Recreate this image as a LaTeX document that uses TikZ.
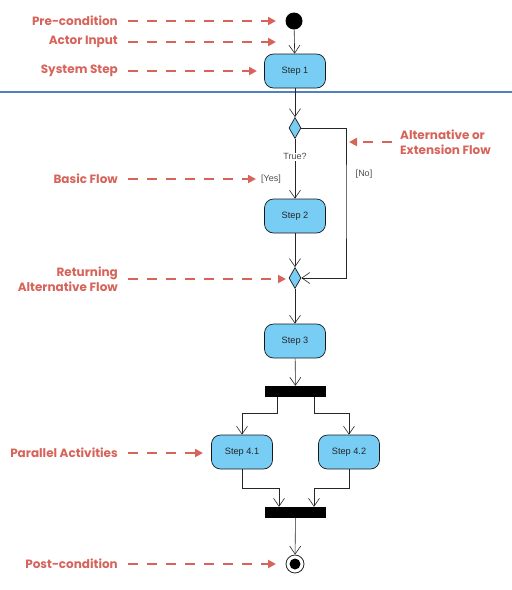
\documentclass[tikz,border=0pt]{standalone}
\usepackage{fontspec}
\setmainfont{Liberation Sans}
\newfontfamily\annfont{Poppins}
\usetikzlibrary{arrows.meta,shapes.geometric,calc}
\definecolor{annred}{RGB}{214,100,90}
\definecolor{stepblue}{RGB}{120,205,245}
\definecolor{sepblue}{RGB}{79,129,189}
\tikzset{
  stepbox/.style={draw=black!90,line width=0.7pt,fill=stepblue,rounded corners=9pt,minimum width=61pt,minimum height=34pt,inner sep=0pt,font=\fontsize{9.2}{11}\selectfont,text=black!85},
  decis/.style={draw=black!90,line width=0.7pt,fill=stepblue,diamond,minimum width=12pt,minimum height=21pt,inner sep=0pt},
  bar/.style={fill=black,minimum width=61pt,minimum height=11pt,inner sep=0pt},
  flow/.style={draw=black!85,line width=0.6pt,-{Straight Barb[length=8pt,width=11pt,line width=0.6pt]}},
  lbl/.style={font=\fontsize{9}{10}\selectfont,text=black!70,inner sep=1pt},
  annfnt/.style={font=\annfont\bfseries\fontsize{12}{15}\selectfont,text=annred,inner sep=0pt},
  anntext/.style={annfnt,anchor=east,align=right},
  ann/.style={draw=annred,line width=2.5pt,dash pattern=on 10pt off 9pt,-{Triangle[length=8pt,width=8pt]}}
}
\begin{document}
\begin{tikzpicture}[x=1pt,y=-1pt]
\useasboundingbox (0,0) rectangle (512,590);
% separator
\draw[sepblue,line width=2.5pt] (0,92) -- (512,92);
% main flow nodes
\node[circle,fill=black,minimum size=17pt,inner sep=0pt] (start) at (294,21) {};
\node[stepbox] (s1) at (295,71) {Step 1};
\node[decis] (d1) at (295,128) {};
\node[stepbox] (s2) at (295,216) {Step 2};
\node[decis] (d2) at (295,278) {};
\node[stepbox] (s3) at (295,341) {Step 3};
\node[bar] (fork) at (295.5,391.5) {};
\node[stepbox] (s41) at (242,452) {Step 4.1};
\node[stepbox] (s42) at (349,452) {Step 4.2};
\node[bar] (join) at (295.5,512.5) {};
\node[circle,draw=black!85,line width=0.8pt,minimum size=18pt,inner sep=0pt] (end) at (295,564) {};
\fill[black] (end.center) circle (5.5pt);
\coordinate (noc) at (346,200);
% connectors
\draw[flow] (start) -- (s1);
\draw[flow] (s1) -- (d1);
\draw[flow] (d1) -- node[lbl,fill=white,pos=0.3] {True?} (s2);
\node[lbl] (yes) at (271,179) {[Yes]};
\draw[flow] (d1.east) -| (noc) |- (d2.east);
\node[lbl] (no) at (364,174) {[No]};
\draw[flow] (s2) -- (d2);
\draw[flow] (d2) -- (s3);
\draw[flow] (s3) -- (fork);
\draw[flow] ([xshift=-18.5pt]fork.south) -- ++(0,16) -| (s41.north);
\draw[flow] ([xshift=18.5pt]fork.south) -- ++(0,16) -| (s42.north);
\draw[flow] (s41.south) -- ++(0,19) -| ([xshift=-16.5pt]join.north);
\draw[flow] (s42.south) -- ++(0,19) -| ([xshift=18.5pt]join.north);
\draw[flow] (join) -- (end);
% annotations
\node[anntext] (a1) at (118,21) {Pre-condition};
\node[anntext] (a2) at (118,42) {Actor Input};
\node[anntext] (a3) at (118,71) {System Step};
\node[anntext] (a4) at (118,179) {Basic Flow};
\node[anntext] (a5) at (118,279) {Returning\\Alternative Flow};
\node[anntext] (a6) at (118,453) {Parallel Activities};
\node[anntext] (a7) at (118,564) {Post-condition};
\node[annfnt,anchor=west,align=left] (a8) at (400,142) {Alternative or\\Extension Flow};
\coordinate (t1) at (276,21);
\coordinate (t2) at (276,42);
\coordinate (t3) at (257,71);
\coordinate (t4) at (256,179);
\coordinate (t5) at (286,279);
\coordinate (t6) at (203,453);
\coordinate (t7) at (276,564);
\coordinate (t8) at (349,142);
\draw[ann] ([xshift=10pt]a1.east) -- (t1);
\draw[ann] ([xshift=10pt]a2.east) -- (t2);
\draw[ann] ([xshift=10pt]a3.east) -- (t3);
\draw[ann] ([xshift=10pt]a4.east) -- (t4);
\draw[ann] ([xshift=10pt]a5.east) -- (t5);
\draw[ann] ([xshift=10pt]a6.east) -- (t6);
\draw[ann] ([xshift=10pt]a7.east) -- (t7);
\draw[ann] ([xshift=-8pt]a8.west) -- (t8);
\end{tikzpicture}
\end{document}
